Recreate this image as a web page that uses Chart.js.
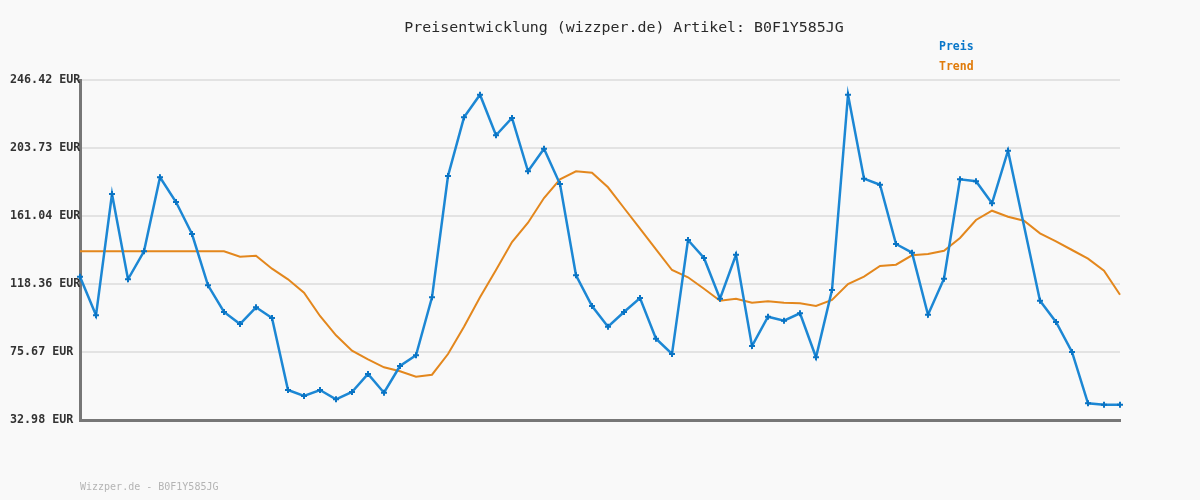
<!DOCTYPE html>
<html>
<head>
<meta charset="utf-8">
<script src="https://cdn.jsdelivr.net/npm/chart.js@4/dist/chart.umd.min.js"></script>
<style>
html,body{margin:0;padding:0;background:#f9f9f9;}
#wrap{position:relative;width:1200px;height:500px;}
</style>
</head>
<body>
<div id="wrap"><canvas id="c" width="1200" height="500"></canvas></div>
<script>
const titleText = "Preisentwicklung (wizzper.de) Artikel: B0F1Y585JG";
const footerText = "Wizzper.de - B0F1Y585JG";
const seriesNames = ["Preis", "Trend"];
const yTicks = [32.98, 75.67, 118.36, 161.04, 203.73, 246.42];

const preis = [122.94, 98.71, 174.86, 121.31, 138.88, 185.34, 169.83, 149.74, 117.54, 100.78,
  93.25, 103.73, 97.01, 51.81, 48.05, 51.81, 45.98, 50.56, 61.86, 50.12,
  66.88, 73.60, 110.01, 186.16, 223.00, 237.19, 211.70, 222.57, 189.11, 203.29,
  181.13, 123.82, 104.55, 91.55, 100.78, 109.57, 84.02, 74.41, 145.98, 134.68,
  109.13, 136.75, 79.44, 97.83, 95.32, 99.96, 72.34, 114.59, 237.19, 184.46,
  180.69, 143.47, 138.01, 99.08, 121.68, 184.08, 182.83, 169.02, 202.04, null,
  107.87, 94.50, 75.67, 43.47, 42.59, 42.59];

const trend = [138.88, 138.88, 138.88, 138.88, 138.88, 138.88, 138.88, 138.88, 138.88, 138.88,
  135.49, 136.12, 127.96, 121.31, 112.90, 98.27, 86.15, 76.49, 71.09, 66.06,
  63.55, 60.16, 61.42, 74.41, 91.55, 110.01, 127.15, 144.72, 156.84, 172.34,
  184.08, 189.11, 188.23, 179.06, 166.07, 153.07, 140.14, 127.15, 122.56, 115.41,
  107.87, 109.13, 106.62, 107.50, 106.62, 106.24, 104.55, 108.31, 118.36, 122.94,
  129.66, 130.47, 136.37, 137.19, 139.26, 147.23, 158.53, 164.37, 160.60, 158.09,
  150.18, 145.16, 139.70, 134.24, 126.71, 111.64];

const labels = preis.map((_, i) => String(i + 1));

const MONO = "'DejaVu Sans Mono', 'Liberation Mono', monospace";

const textPlugin = {
  id: 'texts',
  beforeDraw(chart) {
    const ctx = chart.ctx;
    ctx.save();
    ctx.fillStyle = '#f9f9f9';
    ctx.fillRect(0, 0, chart.width, chart.height);
    ctx.restore();
  },
  afterDraw(chart) {
    const ctx = chart.ctx;
    ctx.save();
    ctx.textBaseline = 'middle';
    ctx.font = "14.9px " + MONO;
    ctx.fillStyle = '#2a2a2a';
    ctx.textAlign = 'center';
    ctx.fillText(titleText, 624, 28);
    ctx.textAlign = 'left';
    ctx.font = "bold 11.5px " + MONO;
    ctx.fillStyle = '#0a77c9';
    ctx.fillText(seriesNames[0], 939, 47);
    ctx.fillStyle = '#e07b0a';
    ctx.fillText(seriesNames[1], 939, 67);
    ctx.font = "10px " + MONO;
    ctx.fillStyle = '#b4b4b4';
    ctx.fillText(footerText, 80, 487);
    ctx.restore();
  }
};

new Chart(document.getElementById('c'), {
  type: 'line',
  data: {
    labels: labels,
    datasets: [
      {
        label: seriesNames[1],
        data: trend,
        borderColor: '#e3871d',
        borderWidth: 2,
        pointRadius: 0,
        tension: 0,
        order: 2
      },
      {
        label: seriesNames[0],
        data: preis,
        borderColor: '#1c87d4',
        borderWidth: 2.5,
        pointStyle: 'cross',
        pointRadius: 3,
        pointBorderWidth: 2,
        pointBorderColor: '#0a74c4',
        pointBackgroundColor: '#0a74c4',
        spanGaps: true,
        tension: 0,
        order: 1
      }
    ]
  },
  options: {
    responsive: false,
    animation: false,
    devicePixelRatio: 1,
    layout: { padding: { left: 10, top: 80, right: 80, bottom: 80 } },
    plugins: {
      legend: { display: false },
      title: { display: false },
      tooltip: { enabled: false }
    },
    scales: {
      x: {
        offset: false,
        grid: { display: false, drawTicks: false },
        border: { display: true, color: '#777777', width: 3 },
        ticks: { display: false }
      },
      y: {
        min: yTicks[0],
        max: yTicks[yTicks.length - 1],
        afterBuildTicks(scale) { scale.ticks = yTicks.map(v => ({ value: v })); },
        afterFit(scale) { scale.width = 70; },
        grid: { color: '#e3e3e3', lineWidth: 2, drawTicks: false },
        border: { display: true, color: '#777777', width: 3 },
        ticks: {
          crossAlign: 'far',
          padding: 0,
          color: '#333333',
          font: { family: MONO, size: 11.7, weight: 'bold' },
          callback: (v) => Number(v).toFixed(2) + ' EUR'
        }
      }
    }
  },
  plugins: [textPlugin]
});
</script>
</body>
</html>
